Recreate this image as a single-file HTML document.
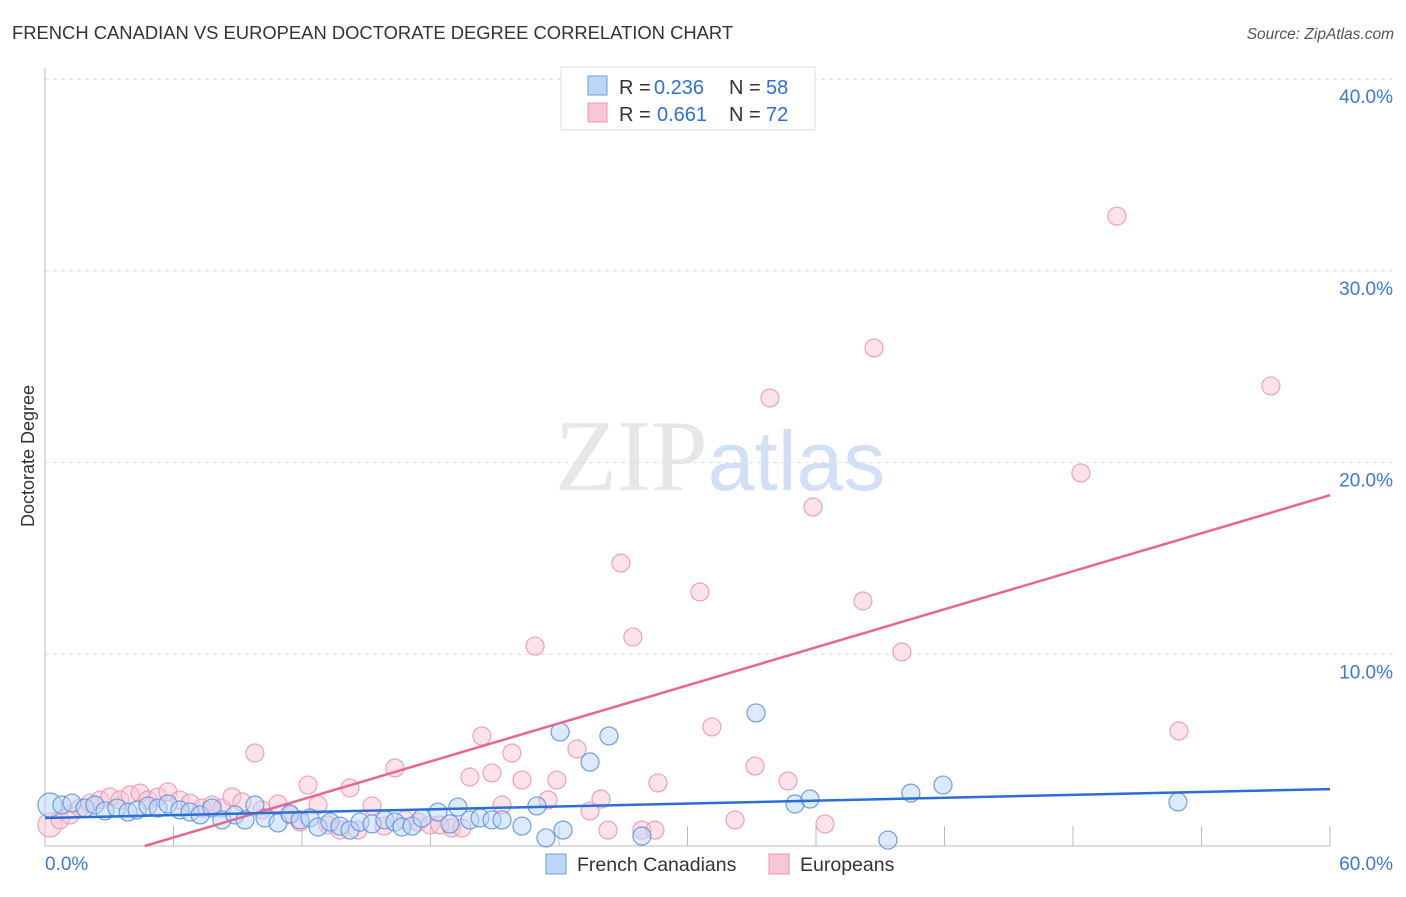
<!DOCTYPE html>
<html><head><meta charset="utf-8"><style>
body{margin:0;background:#fff;font-family:"Liberation Sans",sans-serif;}
</style></head><body>
<svg id="chart" width="1406" height="892" xmlns="http://www.w3.org/2000/svg" font-family="Liberation Sans, sans-serif">
<text x="12" y="39" font-size="18.4" fill="#333">FRENCH CANADIAN VS EUROPEAN DOCTORATE DEGREE CORRELATION CHART</text>
<text x="1394" y="39" font-size="15.5" fill="#555" text-anchor="end" font-style="italic">Source: ZipAtlas.com</text>
<text x="720" y="490" font-size="102" text-anchor="middle" fill="#ccc" opacity="0.45"><tspan font-family="Liberation Serif, serif">ZIP</tspan><tspan fill="#9bbce8" font-family="Liberation Sans, sans-serif" font-size="84">atlas</tspan></text>
<g id="grid"></g><g id="axes"></g><g id="marks"></g>
<text transform="translate(34,456) rotate(-90)" font-size="18" fill="#333" text-anchor="middle">Doctorate Degree</text>
<g font-size="20" fill="#333">
<rect x="561" y="67" width="254" height="63" fill="#fff" stroke="#ddd"/>
<rect x="588" y="76" width="19" height="19" fill="#bcd6f7" stroke="#6d9ee0"/>
<rect x="588" y="103" width="19" height="19" fill="#f9c6d6" stroke="#e994b0"/>
<text x="619" y="94">R =</text><text x="654" y="94" fill="#2f6fd6">0.236</text>
<text x="729" y="94">N =</text><text x="766" y="94" fill="#2f6fd6">58</text>
<text x="619" y="121">R =</text><text x="657" y="121" fill="#2f6fd6">0.661</text>
<text x="729" y="121">N =</text><text x="766" y="121" fill="#2f6fd6">72</text>
</g>
<g>
<rect x="546" y="854" width="20" height="20" fill="#bcd6f7" stroke="#6d9ee0"/>
<text x="577" y="871" font-size="19.5" fill="#333">French Canadians</text>
<rect x="769" y="854" width="20" height="20" fill="#f9c6d6" stroke="#e994b0"/>
<text x="800" y="871" font-size="19.5" fill="#333">Europeans</text>
</g>
</svg>
<script>
const yTicks=[10,20,30,40];
const yTickLabels=["10.0%","20.0%","30.0%","40.0%"];
const xTickLabels=["0.0%","60.0%"];
const blueX=[0.23,0.79,1.26,1.87,2.33,2.80,3.36,3.88,4.30,4.81,5.28,5.74,6.30,6.77,7.24,7.80,8.26,8.87,9.34,9.80,10.27,10.88,11.44,11.91,12.37,12.75,13.31,13.77,14.24,14.71,15.27,15.87,16.34,16.67,17.14,17.60,18.35,18.91,19.28,19.84,20.31,20.87,21.34,22.27,22.97,23.39,24.05,24.19,25.45,26.33,27.87,33.20,35.02,35.72,39.36,40.43,41.93,52.90];
const blueY=[2.14,2.14,2.24,1.98,2.14,1.83,1.98,1.77,1.88,2.09,1.98,2.19,1.88,1.77,1.62,1.98,1.36,1.62,1.36,2.14,1.46,1.20,1.67,1.36,1.46,0.99,1.25,1.04,0.83,1.25,1.15,1.36,1.25,0.99,1.04,1.46,1.77,1.15,2.03,1.36,1.46,1.36,1.36,1.04,2.09,0.42,5.95,0.83,4.38,5.74,0.52,6.94,2.19,2.45,0.31,2.76,3.18,2.30];
const pinkX=[0.23,0.70,1.17,1.63,2.10,2.57,3.03,3.50,3.97,4.44,4.81,5.28,5.74,6.30,6.77,7.33,7.80,8.26,8.73,9.20,9.80,10.13,10.88,11.44,11.91,12.28,12.75,13.21,13.77,14.24,14.61,15.27,15.83,16.34,16.81,17.42,17.98,18.44,19.00,19.47,19.84,20.40,20.87,21.34,21.80,22.27,22.88,23.49,23.90,24.84,25.45,25.96,26.29,26.89,27.45,27.87,28.48,28.62,30.58,31.14,32.22,33.15,33.85,34.69,35.86,36.42,38.19,38.71,40.01,48.37,50.05,52.95,57.24];
const pinkY=[1.10,1.36,1.62,1.98,2.24,2.40,2.56,2.40,2.66,2.76,2.40,2.56,2.82,2.40,2.24,1.98,2.14,1.98,2.56,2.30,4.85,1.88,2.19,1.62,1.25,3.18,2.14,1.10,0.83,3.03,0.83,2.09,1.04,4.07,1.36,1.25,1.10,1.10,0.94,0.94,3.60,5.74,3.81,2.14,4.85,3.44,10.43,2.40,3.44,5.06,1.83,2.45,0.83,14.76,10.90,0.83,0.83,3.29,13.25,6.21,1.36,4.17,23.37,3.39,17.68,1.15,12.78,25.98,10.12,19.46,32.86,6.00,24.00];
const blueLine=[1.46,2.97];
const pinkLine=[-1.54,18.3];
const X0=45,X1=1330,Y0=846,PY=19.17;
const sx=v=>X0+(v/60)*(X1-X0);
const sy=v=>Y0-v*PY;
const NS="http://www.w3.org/2000/svg";
function mk(t,a,p){const e=document.createElementNS(NS,t);for(const k in a)e.setAttribute(k,a[k]);p.appendChild(e);return e;}
const grid=document.getElementById('grid'),axes=document.getElementById('axes'),marks=document.getElementById('marks');
yTicks.forEach((t,i)=>{
 const l=mk('line',{x1:X0,x2:1395,y1:sy(t),y2:sy(t),stroke:'#ddd','stroke-dasharray':'4,4'},grid);
 
 
 const tx=mk('text',{x:1393,y:sy(t)+24,'font-size':19,fill:'#3b78d8','text-anchor':'end'},axes);
 tx.textContent=yTickLabels[i];
 
 
});
const ax=mk('line',{x1:X0,x2:X1,y1:Y0,y2:Y0,stroke:'#bbb'},axes);


const ay=mk('line',{x1:X0,x2:X0,y1:68,y2:Y0,stroke:'#bbb'},axes);


for(let v=6;v<=60;v+=6){const tk=mk('line',{x1:sx(v),x2:sx(v),y1:Y0-20,y2:Y0,stroke:'#bbb'},axes);
 
 }
[[0,'start'],[60,'end']].forEach((d,i)=>{const tx=mk('text',{x:i?1393:45,y:870,'font-size':19,fill:'#3b78d8','text-anchor':d[1]},axes);
 tx.textContent=xTickLabels[i];
 
 });
function pts(xs,ys,fill,stroke,name){xs.forEach((x,i)=>{const c=mk('circle',{cx:sx(x),cy:sy(ys[i]),r:i==0?12:9,fill:fill,'fill-opacity':0.5,stroke:stroke,'stroke-opacity':0.85,'stroke-width':1.2},marks);
 
 });}
pts(pinkX,pinkY,'#f9c6d6','#e994b0','european-point');
pts(blueX,blueY,'#bcd6f7','#5b8fdb','french-canadian-point');
function line(v,col,name){let x0=0,y0=v[0];const slope=(v[1]-v[0])/60;if(y0<0){x0=-v[0]/slope;y0=0;}
 const l=mk('line',{x1:sx(x0),y1:sy(y0),x2:sx(60),y2:sy(v[1]),stroke:col,'stroke-width':2.5},marks);
 
 }
line(pinkLine,'#e8678f','european-trendline');
line(blueLine,'#2a6fd4','french-canadian-trendline');
</script>
</body></html>
